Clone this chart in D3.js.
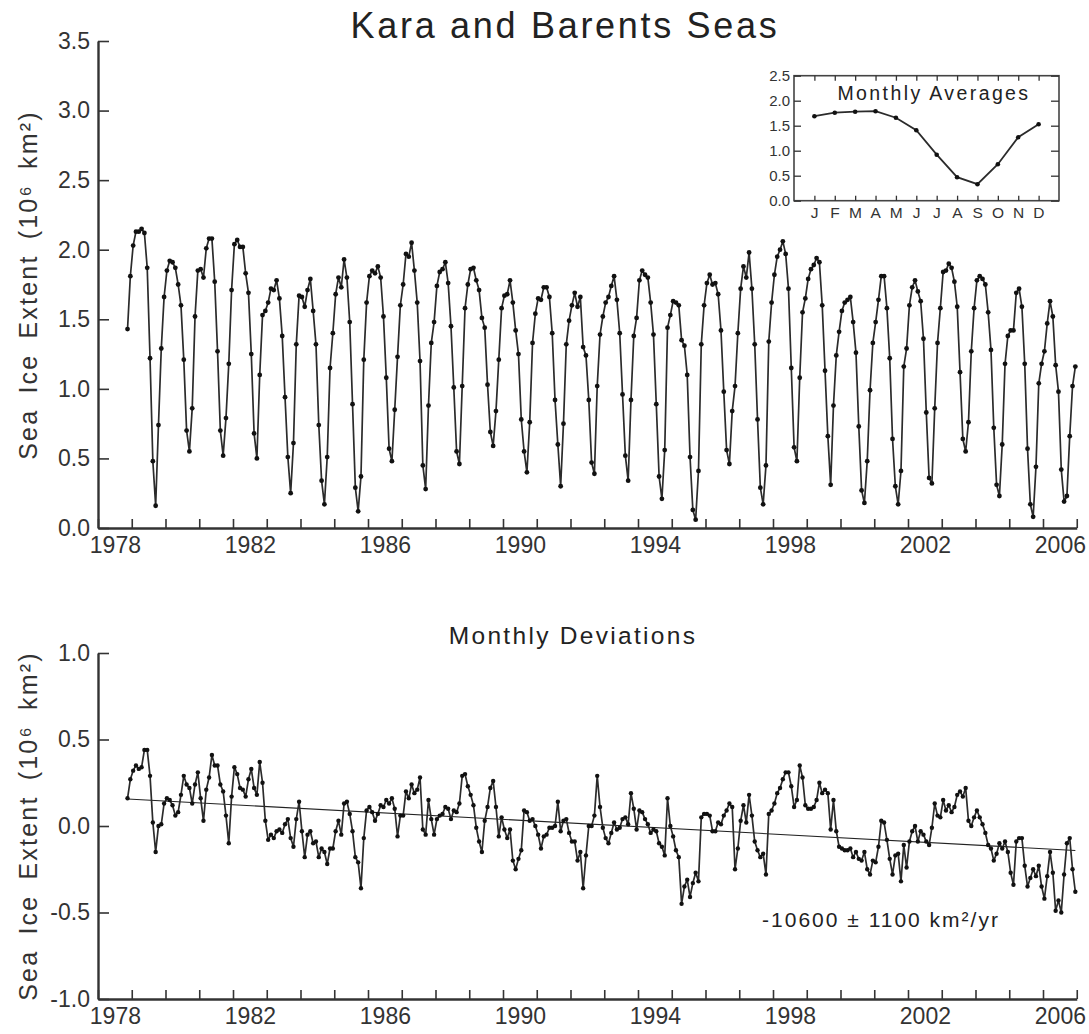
<!DOCTYPE html>
<html>
<head>
<meta charset="utf-8">
<script src="https://cdn.jsdelivr.net/npm/d3@7/dist/d3.min.js"></script>
<style>
  html, body { margin: 0; padding: 0; background: #fff; }
  svg { display: block; font-family: "Liberation Sans", Arial, Helvetica, sans-serif; }
  .axis path, .axis line { stroke: #333; }
  .axis text { fill: #333; }
</style>
</head>
<body>
<svg id="chart" width="1089" height="1034"></svg>
<script>
// Monthly sea ice extent, Kara and Barents Seas (10^6 km^2), Nov 1978 – Dec 2006
const firstYear = 1978;
const firstMonth = 11; // November
const extent = [
  // 1978 (Nov–Dec)
  1.43, 1.81,
  // 1979
  2.03, 2.13, 2.13, 2.15, 2.12, 1.87, 1.22, 0.48, 0.16, 0.74, 1.29, 1.66,
  // 1980
  1.85, 1.92, 1.91, 1.87, 1.75, 1.60, 1.21, 0.70, 0.55, 0.86, 1.52, 1.85,
  // 1981
  1.86, 1.80, 2.01, 2.08, 2.08, 1.77, 1.27, 0.70, 0.52, 0.79, 1.18, 1.71,
  // 1982
  2.04, 2.07, 2.02, 2.02, 1.83, 1.69, 1.25, 0.68, 0.50, 1.10, 1.53, 1.56,
  // 1983
  1.62, 1.72, 1.71, 1.78, 1.65, 1.38, 0.94, 0.51, 0.25, 0.61, 1.32, 1.67,
  // 1984
  1.66, 1.59, 1.71, 1.79, 1.56, 1.32, 0.74, 0.34, 0.17, 0.51, 1.15, 1.40,
  // 1985
  1.68, 1.80, 1.73, 1.93, 1.80, 1.48, 0.89, 0.29, 0.12, 0.37, 1.21, 1.62,
  // 1986
  1.81, 1.85, 1.83, 1.88, 1.80, 1.52, 1.08, 0.57, 0.48, 0.85, 1.23, 1.60,
  // 1987
  1.75, 1.97, 1.95, 2.05, 1.85, 1.62, 1.20, 0.45, 0.28, 0.88, 1.33, 1.48,
  // 1988
  1.74, 1.84, 1.86, 1.91, 1.76, 1.45, 1.01, 0.55, 0.46, 1.02, 1.58, 1.75,
  // 1989
  1.86, 1.87, 1.78, 1.71, 1.51, 1.44, 1.03, 0.69, 0.59, 0.84, 1.21, 1.58,
  // 1990
  1.67, 1.68, 1.78, 1.62, 1.42, 1.25, 0.78, 0.55, 0.40, 0.76, 1.33, 1.54,
  // 1991
  1.65, 1.64, 1.73, 1.73, 1.66, 1.40, 0.92, 0.60, 0.30, 0.75, 1.32, 1.49,
  // 1992
  1.60, 1.69, 1.59, 1.66, 1.30, 1.24, 0.92, 0.47, 0.39, 1.02, 1.39, 1.52,
  // 1993
  1.62, 1.66, 1.74, 1.81, 1.64, 1.40, 0.96, 0.52, 0.34, 0.92, 1.38, 1.51,
  // 1994
  1.78, 1.85, 1.82, 1.80, 1.62, 1.39, 0.89, 0.37, 0.21, 0.56, 1.44, 1.53,
  // 1995
  1.63, 1.62, 1.60, 1.35, 1.31, 1.10, 0.51, 0.13, 0.06, 0.41, 1.32, 1.60,
  // 1996
  1.76, 1.82, 1.75, 1.76, 1.68, 1.42, 0.98, 0.56, 0.46, 0.84, 1.02, 1.40,
  // 1997
  1.72, 1.88, 1.80, 1.98, 1.72, 1.32, 0.78, 0.29, 0.17, 0.45, 1.34, 1.62,
  // 1998
  1.82, 1.95, 2.00, 2.06, 1.97, 1.72, 1.15, 0.58, 0.48, 1.08, 1.55, 1.65,
  // 1999
  1.79, 1.86, 1.89, 1.94, 1.91, 1.60, 1.13, 0.66, 0.31, 0.88, 1.24, 1.41,
  // 2000
  1.56, 1.62, 1.64, 1.66, 1.48, 1.26, 0.73, 0.27, 0.18, 0.48, 0.99, 1.33,
  // 2001
  1.48, 1.64, 1.81, 1.81, 1.58, 1.22, 0.64, 0.30, 0.17, 0.41, 1.16, 1.29,
  // 2002
  1.60, 1.73, 1.78, 1.70, 1.63, 1.36, 0.83, 0.36, 0.32, 0.86, 1.33, 1.58,
  // 2003
  1.84, 1.85, 1.90, 1.87, 1.77, 1.59, 1.12, 0.64, 0.55, 0.76, 1.27, 1.58,
  // 2004
  1.78, 1.81, 1.79, 1.75, 1.55, 1.28, 0.72, 0.31, 0.23, 0.60, 1.18, 1.38,
  // 2005
  1.42, 1.42, 1.69, 1.72, 1.59, 1.18, 0.57, 0.17, 0.08, 0.44, 1.04, 1.18,
  // 2006
  1.27, 1.47, 1.63, 1.52, 1.17, 0.98, 0.42, 0.19, 0.23, 0.66, 1.02, 1.16
];

// Monthly deviations from the monthly averages (10^6 km^2)
const deviations = [
  // 1978 (Nov–Dec)
  0.16, 0.27,
  // 1979
  0.32, 0.35, 0.33, 0.34, 0.44, 0.44, 0.29, 0.02, -0.15, 0.00, 0.01, 0.13,
  // 1980
  0.16, 0.15, 0.12, 0.06, 0.08, 0.18, 0.29, 0.24, 0.22, 0.13, 0.24, 0.31,
  // 1981
  0.16, 0.03, 0.21, 0.28, 0.41, 0.35, 0.35, 0.24, 0.20, 0.06, -0.10, 0.17,
  // 1982
  0.34, 0.30, 0.22, 0.21, 0.17, 0.27, 0.33, 0.22, 0.18, 0.37, 0.25, 0.03,
  // 1983
  -0.08, -0.05, -0.07, -0.03, -0.02, -0.04, 0.01, 0.04, -0.07, -0.12, 0.04, 0.14,
  // 1984
  -0.03, -0.18, -0.05, -0.03, -0.10, -0.09, -0.18, -0.13, -0.15, -0.22, -0.13, -0.13,
  // 1985
  -0.03, 0.03, -0.05, 0.13, 0.14, 0.07, -0.03, -0.18, -0.21, -0.36, -0.07, 0.09,
  // 1986
  0.11, 0.08, 0.03, 0.07, 0.12, 0.11, 0.15, 0.13, 0.16, 0.10, -0.06, 0.06,
  // 1987
  0.06, 0.20, 0.16, 0.24, 0.19, 0.21, 0.28, -0.02, -0.05, 0.15, 0.04, -0.05,
  // 1988
  0.04, 0.06, 0.07, 0.11, 0.10, 0.04, 0.09, 0.08, 0.13, 0.29, 0.30, 0.23,
  // 1989
  0.18, 0.12, -0.01, -0.09, -0.15, 0.03, 0.11, 0.22, 0.26, 0.11, -0.06, 0.05,
  // 1990
  -0.02, -0.07, -0.02, -0.20, -0.25, -0.19, -0.14, 0.09, 0.08, 0.03, 0.04, 0.00,
  // 1991
  -0.05, -0.13, -0.06, -0.05, -0.01, -0.01, 0.00, 0.14, -0.03, 0.03, 0.04, -0.04,
  // 1992
  -0.09, -0.09, -0.20, -0.15, -0.36, -0.17, 0.00, 0.00, 0.06, 0.29, 0.11, -0.01,
  // 1993
  -0.07, -0.10, -0.04, 0.02, -0.02, -0.01, 0.04, 0.05, 0.01, 0.19, 0.10, -0.02,
  // 1994
  0.09, 0.08, 0.04, 0.01, -0.04, -0.02, -0.03, -0.10, -0.12, -0.17, 0.16, 0.00,
  // 1995
  -0.06, -0.14, -0.18, -0.45, -0.35, -0.31, -0.41, -0.33, -0.27, -0.32, 0.05, 0.07,
  // 1996
  0.07, 0.06, -0.03, -0.03, 0.02, 0.01, 0.06, 0.09, 0.13, 0.11, -0.25, -0.13,
  // 1997
  0.03, 0.12, 0.02, 0.18, 0.06, -0.09, -0.14, -0.18, -0.16, -0.28, 0.07, 0.09,
  // 1998
  0.13, 0.19, 0.22, 0.27, 0.31, 0.31, 0.23, 0.11, 0.15, 0.35, 0.28, 0.12,
  // 1999
  0.10, 0.10, 0.11, 0.15, 0.25, 0.19, 0.21, 0.19, -0.02, 0.15, -0.03, -0.12,
  // 2000
  -0.13, -0.14, -0.14, -0.13, -0.18, -0.15, -0.19, -0.20, -0.15, -0.25, -0.28, -0.20,
  // 2001
  -0.21, -0.12, 0.03, 0.02, -0.08, -0.19, -0.28, -0.17, -0.16, -0.32, -0.11, -0.24,
  // 2002
  -0.09, -0.03, 0.00, -0.09, -0.03, -0.05, -0.09, -0.11, -0.01, 0.13, 0.06, 0.05,
  // 2003
  0.15, 0.09, 0.12, 0.08, 0.11, 0.18, 0.20, 0.17, 0.22, 0.03, 0.00, 0.05,
  // 2004
  0.09, 0.05, 0.01, -0.04, -0.11, -0.13, -0.20, -0.16, -0.10, -0.13, -0.09, -0.15,
  // 2005
  -0.27, -0.34, -0.09, -0.07, -0.07, -0.23, -0.35, -0.30, -0.25, -0.29, -0.23, -0.35,
  // 2006
  -0.42, -0.29, -0.15, -0.27, -0.49, -0.43, -0.50, -0.28, -0.10, -0.07, -0.25, -0.38
];

// Climatological monthly averages (10^6 km^2)
const monthLabels = ["J", "F", "M", "A", "M", "J", "J", "A", "S", "O", "N", "D"];
const monthlyAverages = [1.69, 1.76, 1.78, 1.79, 1.66, 1.41, 0.92, 0.47, 0.33, 0.73, 1.27, 1.53];

// Trend of the deviations, km^2 per year
const trendRate = -10600;
const trendError = 1100;

// Axis ticks
const yearLabels = [1978, 1982, 1986, 1990, 1994, 1998, 2002, 2006];
const extentTicks = [0, 0.5, 1.0, 1.5, 2.0, 2.5, 3.0, 3.5];
const deviationTicks = [-1.0, -0.5, 0.0, 0.5, 1.0];
const insetTicks = [0, 0.5, 1.0, 1.5, 2.0, 2.5];

// ---------------------------------------------------------------
const svg = d3.select("#chart");
const ink = "#2b2b2b";
const locale = d3.formatLocale({ decimal: ".", thousands: ",", grouping: [3], currency: ["", ""], minus: "-" });
const fmt = locale.format(".1f");

// decimal-year time of each monthly value (mid-month)
const timeOf = i => firstYear + (firstMonth - 1 + i + 0.5) / 12;
const extentData = extent.map((v, i) => ({ t: timeOf(i), v }));
const devData = deviations.map((v, i) => ({ t: timeOf(i), v }));

const x = d3.scaleLinear().domain([1978, 2007]).range([98, 1076.75]);
const yTop = d3.scaleLinear().domain([0, 3.5]).range([528, 41]);
const yBot = d3.scaleLinear().domain([-1, 1]).range([999, 653]);

function yearAxes(g, yPos) {
  // tick marks at each January 1st
  g.append("g").attr("class", "axis")
    .attr("transform", `translate(0,${yPos})`)
    .call(d3.axisBottom(x).tickValues(d3.range(1978, 2008)).tickFormat("")
      .tickSize(-9).tickSizeOuter(0))
    .call(a => a.select(".domain").attr("stroke-width", 2.4))
    .call(a => a.selectAll(".tick line").attr("stroke-width", 1.6));
  // year labels centred on the year
  g.append("g").attr("class", "axis")
    .attr("transform", `translate(0,${yPos})`)
    .call(d3.axisBottom(x).tickValues(yearLabels.map(y => y + 0.5))
      .tickFormat(d => Math.floor(d)).tickSize(0).tickPadding(9))
    .call(a => a.select(".domain").remove())
    .call(a => a.selectAll("text").attr("font-size", 23).attr("dy", "0.71em"));
}

function valueAxis(g, scale, ticks) {
  g.append("g").attr("class", "axis")
    .attr("transform", "translate(98,0)")
    .call(d3.axisLeft(scale).tickValues(ticks).tickFormat(fmt)
      .tickSize(-11).tickSizeOuter(0).tickPadding(8))
    .call(a => a.select(".domain").attr("stroke-width", 2.4))
    .call(a => a.selectAll(".tick line").attr("stroke-width", 1.6))
    .call(a => a.selectAll("text").attr("font-size", 23));
}

function yTitle(yCenter) {
  svg.append("text")
    .attr("transform", `translate(37,${yCenter}) rotate(-90)`)
    .attr("text-anchor", "middle")
    .attr("font-size", 25)
    .attr("letter-spacing", 2.2)
    .attr("word-spacing", 6)
    .attr("fill", "#333")
    .text("Sea Ice Extent (10⁶ km²)");
}

function series(g, data, scale, r) {
  const line = d3.line().x(d => x(d.t)).y(d => scale(d.v));
  g.append("path").datum(data)
    .attr("fill", "none").attr("stroke", ink)
    .attr("stroke-width", 1.7).attr("stroke-linejoin", "round")
    .attr("d", line);
  g.append("g").selectAll("circle").data(data).join("circle")
    .attr("cx", d => x(d.t)).attr("cy", d => scale(d.v))
    .attr("r", r).attr("fill", "#111");
}

// ---------------- Title ----------------
svg.append("text")
  .attr("x", 565).attr("y", 38)
  .attr("text-anchor", "middle")
  .attr("font-size", 36).attr("letter-spacing", 2.7)
  .attr("fill", "#222")
  .text("Kara and Barents Seas");

// ---------------- Upper panel: monthly extent ----------------
const upperPanel = svg.append("g");
valueAxis(upperPanel, yTop, extentTicks);
yearAxes(upperPanel, 528);
yTitle(285);
series(upperPanel, extentData, yTop, 2.4);

// ---------------- Inset: monthly averages ----------------
const ix = d3.scaleLinear().domain([0, 13]).range([794, 1059]);
const iy = d3.scaleLinear().domain([0, 2.5]).range([200.7, 75.7]);
const inset = svg.append("g");
inset.append("rect")
  .attr("x", ix(0)).attr("y", iy(2.5))
  .attr("width", ix(13) - ix(0)).attr("height", iy(0) - iy(2.5))
  .attr("fill", "#fff").attr("stroke", "#444").attr("stroke-width", 1.6);
const months = d3.range(1, 13);
// inward ticks on all four sides
inset.append("g").attr("class", "axis").attr("transform", `translate(0,${iy(0)})`)
  .call(d3.axisBottom(ix).tickValues(months).tickFormat((d) => monthLabels[d - 1])
    .tickSize(-5).tickSizeOuter(0).tickPadding(6))
  .call(a => a.select(".domain").remove())
  .call(a => a.selectAll("text").attr("font-size", 15.5).attr("letter-spacing", 0.5));
inset.append("g").attr("class", "axis").attr("transform", `translate(0,${iy(2.5)})`)
  .call(d3.axisTop(ix).tickValues(months).tickFormat("").tickSize(-5).tickSizeOuter(0))
  .call(a => a.select(".domain").remove());
inset.append("g").attr("class", "axis").attr("transform", `translate(${ix(0)},0)`)
  .call(d3.axisLeft(iy).tickValues(insetTicks).tickFormat(fmt)
    .tickSize(-7).tickSizeOuter(0).tickPadding(4))
  .call(a => a.select(".domain").remove())
  .call(a => a.selectAll("text").attr("font-size", 15));
inset.append("g").attr("class", "axis").attr("transform", `translate(${ix(13)},0)`)
  .call(d3.axisRight(iy).tickValues(insetTicks).tickFormat("").tickSize(-8).tickSizeOuter(0))
  .call(a => a.select(".domain").remove());
inset.selectAll(".tick line").attr("stroke-width", 1.3);

inset.append("text")
  .attr("x", 934).attr("y", 100)
  .attr("text-anchor", "middle")
  .attr("font-size", 19.5).attr("letter-spacing", 2.4)
  .attr("fill", "#222")
  .text("Monthly Averages");

const avgLine = d3.line().x((d, i) => ix(i + 1)).y(d => iy(d));
inset.append("path").datum(monthlyAverages)
  .attr("fill", "none").attr("stroke", ink).attr("stroke-width", 1.8)
  .attr("d", avgLine);
inset.selectAll("circle.avg").data(monthlyAverages).join("circle")
  .attr("class", "avg")
  .attr("cx", (d, i) => ix(i + 1)).attr("cy", d => iy(d))
  .attr("r", 2.3).attr("fill", "#111");

// ---------------- Lower panel: monthly deviations ----------------
const lowerPanel = svg.append("g");
valueAxis(lowerPanel, yBot, deviationTicks);
yearAxes(lowerPanel, 999);
yTitle(826);

svg.append("text")
  .attr("x", 573).attr("y", 644)
  .attr("text-anchor", "middle")
  .attr("font-size", 24.5).attr("letter-spacing", 2.3)
  .attr("fill", "#222")
  .text("Monthly Deviations");

// linear trend with the stated slope, passing through the mean of the deviations
const slope = trendRate / 1e6; // 10^6 km^2 per year
const meanT = d3.mean(devData, d => d.t);
const meanV = d3.mean(devData, d => d.v);
const tStart = devData[0].t, tEnd = devData[devData.length - 1].t;
const trend = [tStart, tEnd].map(t => ({ t, v: meanV + slope * (t - meanT) }));
lowerPanel.append("path").datum(trend)
  .attr("fill", "none").attr("stroke", "#222").attr("stroke-width", 1.1)
  .attr("d", d3.line().x(d => x(d.t)).y(d => yBot(d.v)));

series(lowerPanel, devData, yBot, 2.2);

lowerPanel.append("text")
  .attr("x", 881).attr("y", 927)
  .attr("text-anchor", "middle")
  .attr("font-size", 21).attr("letter-spacing", 2.0)
  .attr("fill", "#222")
  .text(`${trendRate} ± ${trendError} km²/yr`);
</script>
</body>
</html>
